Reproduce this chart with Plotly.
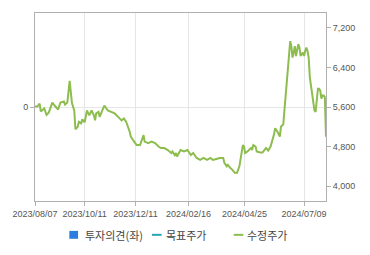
import plotly.graph_objects as go

# trading-day index and adjusted price (수정주가)
day_idx = [0, 2, 4, 5, 8, 10, 12, 15, 17, 20, 22, 25, 26, 28, 30, 31, 32, 34, 35, 37,
           38, 40, 41, 43, 45, 47, 49, 51, 52, 53, 55, 56, 58, 60, 61, 63, 66, 69, 72, 75,
           77, 79, 82, 83, 85, 88, 91, 94, 95, 98, 101, 104, 107, 109, 112, 115, 118, 119, 121, 122,
           123, 126, 129, 132, 135, 137, 140, 143, 146, 149, 152, 154, 157, 160, 163, 164, 166, 167, 169, 171,
           173, 175, 177, 178, 180, 181, 182, 184, 187, 188, 189, 191, 192, 195, 197, 200, 202, 204, 206, 207,
           208, 210, 212, 213, 215, 216, 218, 219, 220, 221, 222, 223, 224, 225, 226, 227, 228, 229, 230, 232,
           233, 234, 235, 236, 237, 238, 239, 240, 241, 242, 243, 244, 245, 246, 247, 248, 249, 250, 251, 252]
price = [5610, 5610, 5670, 5510, 5570, 5440, 5490, 5690, 5630, 5550, 5690, 5710, 5650, 5690, 6130, 5900, 5680, 5530, 5150, 5200,
         5300, 5270, 5350, 5290, 5530, 5430, 5530, 5430, 5330, 5470, 5500, 5400, 5530, 5630, 5600, 5530, 5500, 5470, 5400, 5330,
         5370, 5300, 5100, 5000, 4930, 4830, 4830, 5030, 4900, 4870, 4900, 4870, 4800, 4770, 4770, 4730, 4670, 4700, 4630, 4670,
         4600, 4730, 4700, 4730, 4630, 4670, 4570, 4530, 4570, 4530, 4570, 4530, 4550, 4570, 4570, 4470, 4400, 4430, 4370, 4330,
         4270, 4270, 4400, 4570, 4830, 4800, 4670, 4700, 4770, 4730, 4830, 4800, 4700, 4680, 4680, 4770, 4720, 4800, 4950, 5050,
         5170, 5100, 5000, 5200, 5250, 5540, 5930, 6400, 6530, 6930, 6830, 6600, 6700, 6830, 6630, 6770, 6870, 6800, 6630, 6700,
         6630, 6730, 6800, 6730, 6600, 6200, 6000, 5930, 5730, 5530, 5500, 5730, 5970, 5970, 5930, 5770, 5830, 5830, 5800, 5000]

tick_idx = [0, 43, 87, 133, 181.5, 233]
tick_labels = ["2023/08/07", "2023/10/11", "2023/12/11", "2024/02/16", "2024/04/25", "2024/07/09"]
price_ticks = [4000, 4800, 5600, 6400, 7200]

legend_names = ["투자의견(좌)", "목표주가", "수정주가"]
legend_colors = ["#2b7de0", "#27a6b6", "#8dbd4f"]

fig = go.Figure()
fig.add_trace(go.Bar(x=[], y=[], name=legend_names[0], marker_color=legend_colors[0], yaxis="y", showlegend=False))
fig.add_trace(go.Scatter(x=[], y=[], name=legend_names[1], mode="lines", line=dict(color=legend_colors[1]), yaxis="y2", showlegend=False))
fig.add_trace(go.Scatter(x=day_idx, y=price, name=legend_names[2], mode="lines",
                         line=dict(color=legend_colors[2], width=2), yaxis="y2", showlegend=False))

tickfont = dict(family="Liberation Sans, Arial", size=9, color="#555555")
fig.update_layout(
    width=370, height=255,
    margin=dict(l=27, r=44, t=12, b=54),
    paper_bgcolor="white", plot_bgcolor="white",
    xaxis=dict(range=[0, 252], tickvals=tick_idx, ticktext=tick_labels, tickfont=tickfont,
               showgrid=True, gridcolor="#e6e6e6", gridwidth=1, zeroline=False,
               showline=True, linecolor="#b0b0b0", linewidth=1, mirror=True,
               ticks="outside", ticklen=4, tickcolor="#b0b0b0"),
    yaxis=dict(range=[-1, 1], tickvals=[0], ticktext=["0"], tickfont=tickfont,
               showgrid=True, gridcolor="#e6e6e6", zeroline=False,
               showline=True, linecolor="#b0b0b0", linewidth=1,
               ticks="outside", ticklen=4, tickcolor="#b0b0b0"),
    yaxis2=dict(range=[3700, 7500], overlaying="y", side="right", tickvals=price_ticks,
                tickformat=",", tickfont=tickfont, showgrid=False, zeroline=False,
                showline=True, linecolor="#b0b0b0", linewidth=1,
                ticks="outside", ticklen=4, tickcolor="#b0b0b0"),
)

# manual legend
lf = dict(family="Noto Sans CJK KR", size=11, color="#444444")
fig.add_shape(type="rect", xref="paper", yref="paper", x0=0.118, x1=0.148, y0=-0.201, y1=-0.159,
              fillcolor=legend_colors[0], line=dict(width=0))
fig.add_annotation(xref="paper", yref="paper", x=0.165, y=-0.18, text=legend_names[0],
                   showarrow=False, xanchor="left", yanchor="middle", font=lf)
fig.add_shape(type="line", xref="paper", yref="paper", x0=0.402, x1=0.435, y0=-0.18, y1=-0.18,
              line=dict(color=legend_colors[1], width=2))
fig.add_annotation(xref="paper", yref="paper", x=0.442, y=-0.18, text=legend_names[1],
                   showarrow=False, xanchor="left", yanchor="middle", font=lf)
fig.add_shape(type="line", xref="paper", yref="paper", x0=0.683, x1=0.716, y0=-0.18, y1=-0.18,
              line=dict(color=legend_colors[2], width=2))
fig.add_annotation(xref="paper", yref="paper", x=0.723, y=-0.18, text=legend_names[2],
                   showarrow=False, xanchor="left", yanchor="middle", font=lf)

fig.write_html("out.html")
